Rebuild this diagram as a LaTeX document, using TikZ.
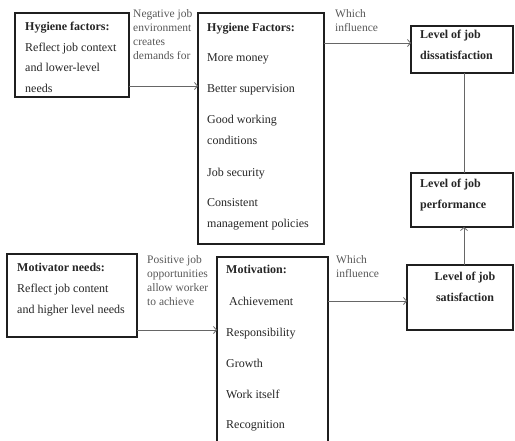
\documentclass[tikz,border=0pt]{standalone}
\usepackage{fontspec}
\setmainfont{Liberation Serif}
\usetikzlibrary{arrows.meta}
\begin{document}
\begin{tikzpicture}[x=1pt,y=-1pt,
  box/.style={draw=black!88, line width=1.6pt, anchor=north west, inner sep=0pt, outer sep=0pt},
  txt/.style={anchor=base west, inner sep=0pt, font=\fontsize{12}{14}\selectfont, text=black!85},
  btxt/.style={txt, font=\fontsize{12}{14}\selectfont\bfseries},
  lbl/.style={anchor=base west, inner sep=0pt, font=\fontsize{11.5}{13}\selectfont, text=black!65},
  conn/.style={draw=black!60, line width=0.8pt},
  arr/.style={conn, -{Straight Barb[length=3pt,width=7pt]}}]
\useasboundingbox (0,0) rectangle (515,440);
\clip (0,0) rectangle (515,440);
\fill[white] (0,0) rectangle (515,440);
% boxes
\node[box, minimum width=114pt, minimum height=84pt] (hf) at (15,13) {};
\node[box, minimum width=126pt, minimum height=231pt] (hl) at (198,13) {};
\node[box, minimum width=102pt, minimum height=47pt] (dis) at (411,26) {};
\node[box, minimum width=102pt, minimum height=54pt] (perf) at (411,173) {};
\node[box, minimum width=130pt, minimum height=83pt] (mn) at (7,254) {};
\node[box, minimum width=111pt, minimum height=200pt] (mot) at (217,257) {};
\node[box, minimum width=106pt, minimum height=65pt] (sat) at (407,265) {};
% box texts
\node[btxt] (t1a) at (25,30) {Hygiene factors:};
\node[txt] (t1b) at (25,51) {Reflect job context};
\node[txt] (t1c) at (25,71) {and lower-level};
\node[txt] (t1d) at (25,92) {needs};
\node[btxt] (t2a) at (207,31) {Hygiene Factors:};
\node[txt] (t2b) at (207,61) {More money};
\node[txt] (t2c) at (207,92) {Better supervision};
\node[txt] (t2d) at (207,123) {Good working};
\node[txt] (t2e) at (207,144) {conditions};
\node[txt] (t2f) at (207,176) {Job security};
\node[txt] (t2g) at (207,206) {Consistent};
\node[txt] (t2h) at (207,227) {management policies};
\node[btxt] (t3a) at (420,38) {Level of job};
\node[btxt] (t3b) at (420,59) {dissatisfaction};
\node[btxt] (t4a) at (420,187) {Level of job};
\node[btxt] (t4b) at (420,208) {performance};
\node[btxt] (t5a) at (17,271) {Motivator needs:};
\node[txt] (t5b) at (17,292) {Reflect job content};
\node[txt] (t5c) at (17,313) {and higher level needs};
\node[btxt] (t6a) at (226,273) {Motivation:};
\node[txt] (t6b) at (229,305) {Achievement};
\node[txt] (t6c) at (226,336) {Responsibility};
\node[txt] (t6d) at (226,367) {Growth};
\node[txt] (t6e) at (226,398) {Work itself};
\node[txt] (t6f) at (226,428) {Recognition};
\node[btxt, anchor=base] (t7a) at (465,280) {Level of job};
\node[btxt, anchor=base] (t7b) at (465,301) {satisfaction};
% labels
\node[lbl] (l1a) at (133,17) {Negative job};
\node[lbl] (l1b) at (133,31) {environment};
\node[lbl] (l1c) at (133,45) {creates};
\node[lbl] (l1d) at (133,59) {demands for};
\node[lbl] (l2a) at (335,17) {Which};
\node[lbl] (l2b) at (335,31) {influence};
\node[lbl] (l3a) at (147,263) {Positive job};
\node[lbl] (l3b) at (147,277) {opportunities};
\node[lbl] (l3c) at (147,291) {allow worker};
\node[lbl] (l3d) at (147,305) {to achieve};
\node[lbl] (l4a) at (336,263) {Which};
\node[lbl] (l4b) at (336,277) {influence};
% connector helpers
\coordinate (ya) at (0,86);
\coordinate (yb) at (0,43);
\coordinate (yc) at (0,330);
\coordinate (yd) at (0,301);
\coordinate (vx) at (464,0);
\draw[arr] (hf.east |- ya) -- (hl.west |- ya);
\draw[arr] (hl.east |- yb) -- (dis.west |- yb);
\draw[arr] (mn.east |- yc) -- (mot.west |- yc);
\draw[arr] (mot.east |- yd) -- (sat.west |- yd);
\draw[arr] (sat.north -| vx) -- (perf.south -| vx);
\draw[conn] (perf.north -| vx) -- (dis.south -| vx);
\end{tikzpicture}
\end{document}
